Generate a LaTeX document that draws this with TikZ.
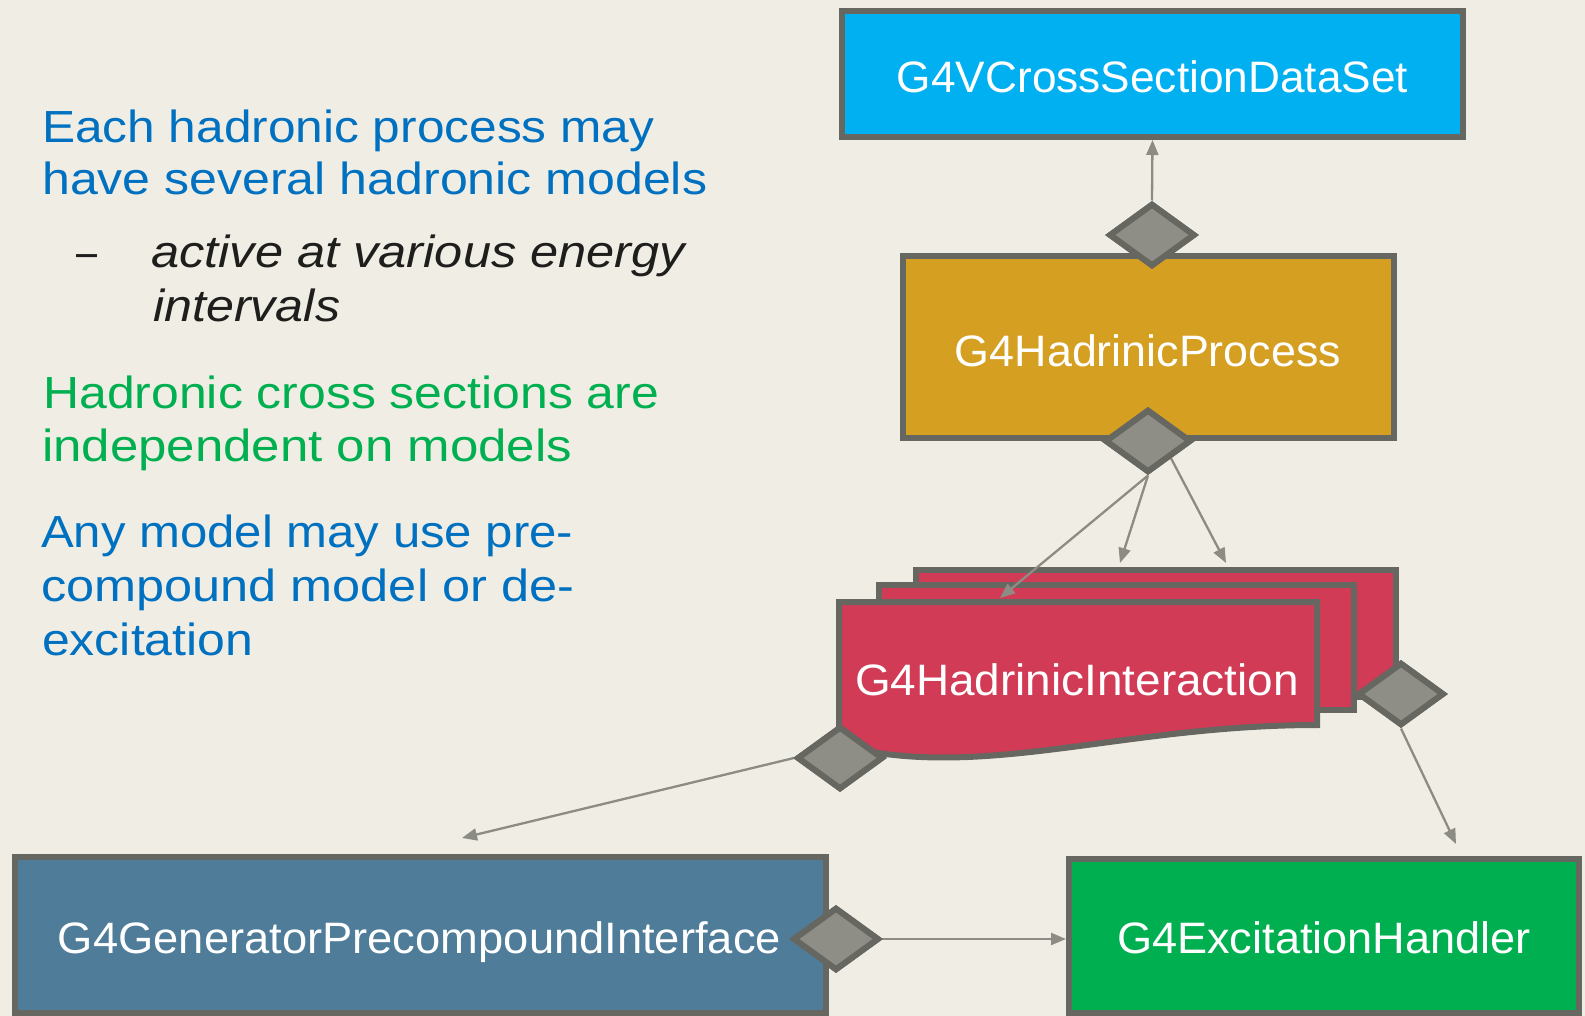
\documentclass[tikz,border=0pt]{standalone}
\usepackage{graphicx}
\usepackage{fontspec}
\setmainfont{Liberation Sans}
\usetikzlibrary{shapes.geometric,arrows.meta}
\definecolor{bgcol}{RGB}{240,237,229}
\definecolor{bordercol}{RGB}{103,103,97}
\definecolor{diafill}{RGB}{142,142,134}
\definecolor{conncol}{RGB}{140,140,132}
\definecolor{cyanfill}{RGB}{0,176,240}
\definecolor{goldfill}{RGB}{213,160,34}
\definecolor{redfill}{RGB}{209,59,86}
\definecolor{steelfill}{RGB}{78,124,153}
\definecolor{greenfill}{RGB}{0,176,80}
\definecolor{bluetext}{RGB}{0,112,192}
\definecolor{greentext}{RGB}{0,176,80}
\definecolor{darktext}{RGB}{30,30,28}
\begin{document}
\begin{tikzpicture}[x=1pt,y=-1pt,
  box/.style={draw=bordercol, line width=6pt, inner sep=0pt},
  dia/.style={diamond, draw=bordercol, fill=diafill, line width=6pt, inner sep=0pt,
    minimum width=86pt, minimum height=63pt},
  conn/.style={draw=conncol, line width=2.3pt, -{Triangle[length=15pt,width=12pt]}},
  lbl/.style={anchor=base, text=white, inner sep=0pt, font=\fontsize{44}{50}\selectfont},
  txt/.style={anchor=base west, inner sep=0pt, font=\fontsize{45}{52}\selectfont},
  itxt/.style={txt, text=darktext, font=\fontsize{45}{52}\selectfont\itshape}]
\fill[bgcol] (0,0) rectangle (1585,1016);
\useasboundingbox (0,0) rectangle (1585,1016);

% left text
\node[txt, text=bluetext] (t1) at (42,143) {\resizebox{612pt}{\height}{Each hadronic process may}};
\node[txt, text=bluetext] (t2) at (42,195) {\resizebox{665pt}{\height}{have several hadronic models}};
\node[txt, text=darktext] (t3) at (76,268) {\resizebox{21pt}{\height}{–}};
\node[itxt] (t4) at (151,268) {\resizebox{534pt}{\height}{active at various energy}};
\node[itxt] (t5) at (153,321) {\resizebox{187pt}{\height}{intervals}};
\node[txt, text=greentext] (t6) at (43,408) {\resizebox{616pt}{\height}{Hadronic cross sections are}};
\node[txt, text=greentext] (t7) at (42,461) {\resizebox{530pt}{\height}{independent on models}};
\node[txt, text=bluetext] (t8) at (41,547) {\resizebox{532pt}{\height}{Any model may use pre-}};
\node[txt, text=bluetext] (t9) at (41,601) {\resizebox{533pt}{\height}{compound model or de-}};
\node[txt, text=bluetext] (t10) at (42,655) {\resizebox{211pt}{\height}{excitation}};

% boxes
\node[box, fill=cyanfill, minimum width=621pt, minimum height=126pt] (cs) at (1152.5,74) {};
\node[box, fill=goldfill, minimum width=491pt, minimum height=182pt] (hp) at (1148.5,347) {};
\node[box, fill=steelfill, minimum width=811pt, minimum height=156pt] (gpi) at (420.5,935) {};
\node[box, fill=greenfill, minimum width=510pt, minimum height=154pt] (eh) at (1324,936) {};

% stacked cards
\node[box, fill=redfill, minimum width=480pt, minimum height=127pt] (back) at (1156,633.5) {};
\node[box, fill=redfill, minimum width=475pt, minimum height=125pt] (mid) at (1116.5,647.5) {};
\draw[draw=bordercol, line width=6pt, fill=redfill, line join=miter]
  (839,602) -- (1317,602) -- (1317,725) .. controls (1120,725) and (980,782) .. (839,745) -- cycle;

% free ends of connectors
\coordinate (a1) at (1000,598);
\coordinate (a2) at (1120,563);
\coordinate (a3) at (1226,563);
\coordinate (a4) at (462,838);
\coordinate (a5) at (1456,844);

% diamonds
\node[dia] (dtop) at (1152,235) {};
\node[dia] (dhp) at (1148,441) {};
\node[dia] (dback) at (1401,694) {};
\node[dia] (dfc) at (840,758) {};
\node[dia] (dgpi) at (836,939) {};

% connectors
\draw[conn] (dtop.north) -- (cs.south);
\draw[conn] (dhp.south) -- (a1);
\draw[conn] (dhp.south) -- (a2);
\draw[conn] (dhp.south east) -- (a3);
\draw[conn] (dfc.west) -- (a4);
\draw[conn] (dback.south) -- (a5);
\draw[conn] (dgpi.east) -- (dgpi.east -| eh.west);

% diamonds drawn again on top of the connector ends
\node[dia] at (dtop) {};
\node[dia] at (dhp) {};
\node[dia] at (dback) {};
\node[dia] at (dfc) {};
\node[dia] at (dgpi) {};

% labels
\node[lbl] (lcs) at (1152.5,93) {\resizebox{511pt}{\height}{G4VCrossSectionDataSet}};
\node[lbl] (lhp) at (1148,366) {\resizebox{386pt}{\height}{G4HadrinicProcess}};
\node[lbl] (lhi) at (1077,695) {\resizebox{444pt}{\height}{G4HadrinicInteraction}};
\node[lbl] (lgpi) at (419.5,953) {\resizebox{723pt}{\height}{G4GeneratorPrecompoundInterface}};
\node[lbl] (leh) at (1324,953) {\resizebox{414pt}{\height}{G4ExcitationHandler}};
\end{tikzpicture}
\end{document}
